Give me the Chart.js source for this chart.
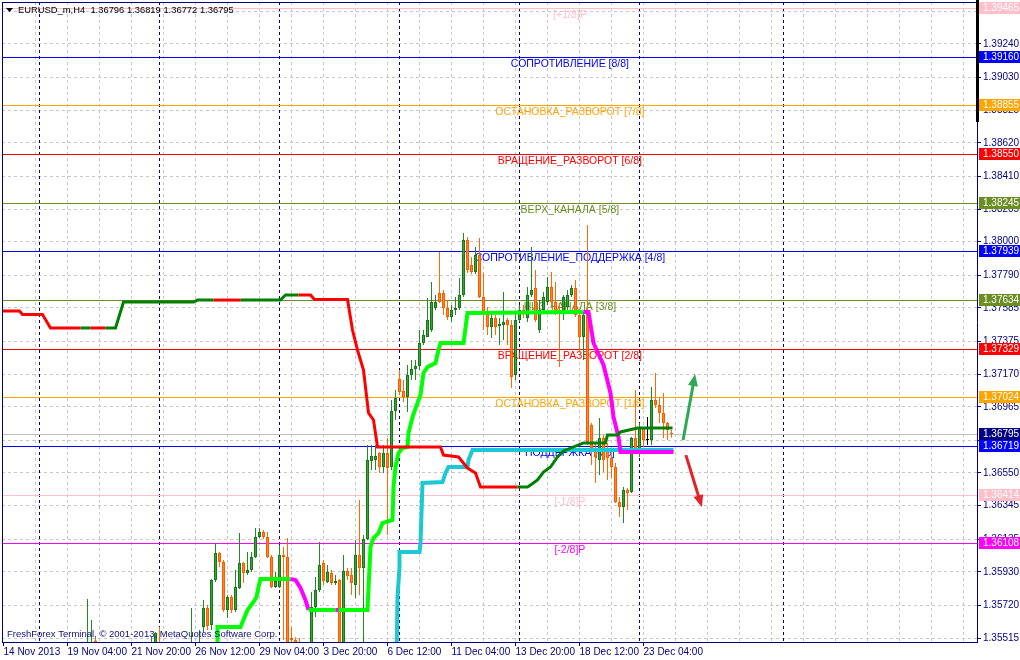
<!DOCTYPE html>
<html>
<head>
<meta charset="utf-8">
<script src="https://cdn.jsdelivr.net/npm/chart.js@4.4.0/dist/chart.umd.min.js"></script>
<style>
html,body{margin:0;padding:0;background:#fff;overflow:hidden}
canvas{display:block}
</style>
</head>
<body>
<canvas id="c" width="1020" height="660"></canvas>
<script>
// EURUSD_m H4 candles, bar 0 = 14 Nov 2013 12:00
const opens = [
 1.3462,1.3470,1.3465,1.3468,1.3476,1.3486,1.3482,1.3494,1.3490,1.3496,
 1.3500,1.3508,1.3502,1.3498,1.3509,1.3514,1.3518,1.3526,1.3522,1.3528,
 1.3536,1.3530,1.3541,1.3550,1.3538,1.3524,1.3502,1.3476,1.3458,1.3448,
 1.3450,1.3458,1.3452,1.3466,1.3484,1.3498,1.3516,1.3530,1.3540,1.3549,
 1.3540,1.3532,1.3536,1.3530,1.3524,1.3532,1.3538,1.3541,1.3546,1.3540,
 1.35584,1.35703,1.35597,1.35879,1.36048,1.35992,1.35691,1.35772,1.35691,1.35829,
 1.35985,1.35923,1.35941,1.36023,1.36148,1.36180,1.36148,1.36023,1.35835,1.35835,
 1.36035,1.36023,1.35515,1.35503,1.3546,1.3542,1.3535,1.3545,1.35709,1.35816,
 1.35985,1.35866,1.35923,1.35860,1.35879,1.3542,1.35935,1.35910,1.35847,1.36035,
 1.35954,1.36136,1.36625,1.36631,1.36675,1.36587,1.36675,1.36587,1.36938,1.37139,
 1.37064,1.37026,1.37164,1.37202,1.37221,1.37365,1.37402,1.37446,1.37584,1.37678,
 1.37678,1.37584,1.37528,1.37572,1.37584,1.37666,1.38011,1.37854,1.37810,1.37916,
 1.37653,1.37559,1.37465,1.37521,1.37471,1.37478,1.37509,1.37478,1.37164,1.37509,
 1.37572,1.37521,1.37666,1.37710,1.37446,1.37572,1.37622,1.37716,1.37622,1.37572,
 1.37553,1.37590,1.37666,1.37710,1.37540,1.37402,1.37553,1.36851,1.36706,1.36631,
 1.36769,1.36706,1.36644,1.36587,1.36368,1.36336,1.36443,1.36431,1.36769,1.36675,
 1.36832,1.36757,1.36757,1.37007,1.36976,1.36926,1.36863,1.36796
];
const highs = [
 1.3475,1.3478,1.3472,1.3480,1.3490,1.3495,1.3498,1.3502,1.3500,1.3505,
 1.3512,1.3515,1.3510,1.3512,1.3518,1.3522,1.3530,1.3535,1.3532,1.3540,
 1.3544,1.3576,1.35628,1.35515,1.3546,1.3530,1.3510,1.3482,1.3466,1.3456,
 1.3462,1.3465,1.3470,1.3488,1.3502,1.3520,1.3540,1.35521,1.35553,1.35584,
 1.3546,1.3540,1.3544,1.3538,1.3536,1.3542,1.3546,1.35703,1.3548,1.35565,
 1.35753,1.35722,1.35885,1.36111,1.36054,1.36004,1.35785,1.35785,1.35941,1.36173,
 1.35992,1.36054,1.36054,1.36205,1.36205,1.36192,1.36180,1.36035,1.35929,1.36098,
 1.36086,1.36142,1.35584,1.3552,1.35515,1.3546,1.3548,1.35804,1.35898,1.36117,
 1.36004,1.35973,1.35941,1.35910,1.35885,1.36035,1.35954,1.35954,1.36130,1.36380,
 1.36161,1.36725,1.36725,1.36725,1.36681,1.36725,1.36769,1.37007,1.37070,1.37195,
 1.37133,1.37227,1.37258,1.37258,1.37446,1.37446,1.37647,1.37747,1.37666,1.37935,
 1.37697,1.37634,1.37603,1.37653,1.37772,1.38054,1.38029,1.37904,1.37967,1.38023,
 1.37804,1.37590,1.37553,1.37540,1.37521,1.37685,1.37521,1.37509,1.37553,1.37603,
 1.37603,1.37716,1.37967,1.37822,1.37634,1.37685,1.37779,1.37810,1.37747,1.37616,
 1.37666,1.37697,1.37728,1.37760,1.37572,1.37559,1.38105,1.36863,1.36738,1.36894,
 1.36788,1.36738,1.36662,1.36612,1.36399,1.36462,1.36456,1.36775,1.37070,1.36863,
 1.36838,1.36901,1.37089,1.37177,1.37026,1.37051,1.36869,1.36819
];
const lows = [
 1.3455,1.3462,1.3458,1.3464,1.3472,1.3480,1.3478,1.3486,1.3484,1.3490,
 1.3494,1.3498,1.3492,1.3495,1.3502,1.3508,1.3512,1.3518,1.3515,1.3524,
 1.3526,1.3526,1.3536,1.3534,1.3520,1.3498,1.3470,1.3452,1.3440,1.3438,
 1.3444,1.3446,1.3448,1.3460,1.3478,1.3490,1.3510,1.3525,1.3535,1.3537,
 1.3528,1.3522,1.3526,1.3518,1.3520,1.3528,1.3530,1.3538,1.3536,1.3536,
 1.35546,1.35565,1.35565,1.35866,1.35960,1.35678,1.35640,1.35672,1.35678,1.35822,
 1.35860,1.35910,1.35929,1.36017,1.36142,1.36136,1.36017,1.35829,1.35829,1.35829,
 1.35503,1.3538,1.3540,1.3535,1.3530,1.3525,1.3530,1.3540,1.35647,1.35804,
 1.35847,1.35860,1.35847,1.35847,1.3536,1.3537,1.35879,1.35785,1.35766,1.35785,
 1.3545,1.36130,1.36568,1.36568,1.36550,1.36550,1.36161,1.36568,1.36882,1.37039,
 1.36995,1.36932,1.37133,1.37133,1.37195,1.37352,1.37402,1.37434,1.37572,1.37616,
 1.37540,1.37509,1.37496,1.37540,1.37572,1.37653,1.37804,1.37797,1.37797,1.37647,
 1.37446,1.37415,1.37396,1.37415,1.37352,1.37383,1.37352,1.37083,1.37133,1.37496,
 1.37521,1.37496,1.37653,1.37496,1.37427,1.37559,1.37603,1.37584,1.37540,1.37214,
 1.37509,1.37572,1.37653,1.37528,1.37308,1.37258,1.36725,1.36600,1.36487,1.36537,
 1.36556,1.36506,1.36518,1.36362,1.36274,1.36236,1.36318,1.36424,1.36681,1.36650,
 1.36713,1.36725,1.36725,1.36957,1.36863,1.36769,1.36757,1.36772
];
const closes = [
 1.3470,1.3465,1.3468,1.3476,1.3486,1.3482,1.3494,1.3490,1.3496,1.3500,
 1.3508,1.3502,1.3498,1.3509,1.3514,1.3518,1.3526,1.3522,1.3528,1.3536,
 1.3530,1.3542,1.3547,1.3538,1.3524,1.3502,1.3476,1.3458,1.3448,1.3450,
 1.3458,1.3452,1.3466,1.3484,1.3498,1.3516,1.3530,1.3547,1.35546,1.3540,
 1.3532,1.3536,1.3530,1.3524,1.3532,1.3538,1.3541,1.3546,1.3540,1.3546,
 1.35703,1.35590,1.35879,1.36048,1.35992,1.35691,1.35772,1.35691,1.35835,1.35985,
 1.35923,1.35941,1.36023,1.36148,1.36180,1.36148,1.36023,1.35835,1.35872,1.36035,
 1.36023,1.3545,1.35503,1.3546,1.3542,1.3535,1.3545,1.35709,1.35816,1.35973,
 1.35872,1.35929,1.35860,1.35872,1.3541,1.35935,1.35904,1.35860,1.36035,1.35954,
 1.36136,1.36631,1.36656,1.36656,1.36587,1.36675,1.36581,1.36938,1.37020,1.37058,
 1.37026,1.37164,1.37202,1.37221,1.37365,1.37415,1.37509,1.37622,1.37622,1.37622,
 1.37584,1.37528,1.37572,1.37584,1.37666,1.38011,1.37822,1.37810,1.37916,1.37653,
 1.37559,1.37465,1.37521,1.37465,1.37484,1.37496,1.37478,1.37152,1.37509,1.37572,
 1.37546,1.37666,1.37697,1.37509,1.37572,1.37653,1.37716,1.37622,1.37559,1.37553,
 1.37653,1.37666,1.37710,1.37540,1.37402,1.37540,1.36744,1.36706,1.36650,1.36769,
 1.36631,1.36644,1.36587,1.36368,1.36336,1.36443,1.36424,1.36769,1.36694,1.36838,
 1.36757,1.36757,1.37007,1.36976,1.36926,1.36863,1.36819,1.36795
];

// trend line (red falling / green rising): bar position, price, colour of segment
const tlBar = [-0.375,4,4.75,9.75,11.75,19.25,21.75,25.5,28,30,
 47.5,48.5,52.5,59.25,69.25,70.5,73.75,76.75,77.75,86,
 87.25,88.5,90,91.25,92.5,93.5,109.25,110,113.75,116,
 118,119.25,128.5,131,131.75,133.5,135,136.75,138.5,140,
 145,150.5,151,153.5,154.25,158.5,167.25];
const tlVal = [1.37565,1.37565,1.37543,1.37543,1.37459,1.37459,1.37459,1.37459,1.37459,1.37622,
 1.37622,1.37634,1.37634,1.37634,1.37634,1.37666,1.37666,1.37666,1.37638,1.37638,
 1.37446,1.37321,1.37195,1.36926,1.36882,1.36713,1.36713,1.36662,1.36650,1.36581,
 1.36550,1.36462,1.36462,1.36462,1.36474,1.36506,1.36556,1.36587,1.36650,1.36688,
 1.36738,1.36738,1.36788,1.36788,1.36807,1.36832,1.36832];
const tlCol = 'rrrrrgrgggggrgggrrrrrrrrrrrrrrrrggggggggggggggg';

// trailing stop line (lime / magenta)
const slBar = [53.5,53.5,59.25,61,62.5,63.25,63.75,64.25,71.75,73,
 74.25,75.5,76.25,83,83.75,91,91.75,92.5,93.75,94.75,
 97.25,97.5,98,98.75,99.75,101,101.25,102.25,103.5,104.25,
 105,106,108,108.75,109.25,115,116,145,146.25,147.5,
 150,151.75,152.5,153.75,154.25,167.5];
const slVal = [1.3535,1.35584,1.35584,1.35691,1.35741,1.35772,1.35835,1.35885,1.35885,1.35879,
 1.35829,1.35753,1.35691,1.35691,1.35691,1.35691,1.36086,1.36142,1.36173,1.36236,
 1.36255,1.36462,1.36587,1.36675,1.36706,1.36713,1.36800,1.36901,1.36989,1.37039,
 1.37177,1.37214,1.37239,1.37321,1.37365,1.37365,1.37553,1.37559,1.37559,1.37365,
 1.37227,1.37051,1.36901,1.36775,1.36681,1.36681];
const slCol = 'llllllllmmmmlmlllllllllllllllllllllllmmmmmmmmm';

// cyan support line
const clBar = [98.25,98.5,99,99,104,104.25,104.75,109.75,110.5,111.25,116,116.25,117.25,167.5];
const clVal = [1.3535,1.35772,1.35960,1.36054,1.36054,1.36111,1.36487,1.36493,1.36550,1.36587,1.36587,1.36631,1.36694,1.36694];

// Murrey math levels
const mmVals = [1.39465,1.39160,1.38855,1.38550,1.38245,1.37939,1.37634,1.37329,1.37024,1.36719,1.36414,1.36108];
const mmNames = ['[+1/8]P','СОПРОТИВЛЕНИЕ [8/8]','ОСТАНОВКА_РАЗВОРОТ [7/8]','ВРАЩЕНИЕ_РАЗВОРОТ [6/8]',
 'ВЕРХ_КАНАЛА [5/8]','СОПРОТИВЛЕНИЕ_ПОДДЕРЖКА [4/8]','НИЗ_КАНАЛА [3/8]','ВРАЩЕНИЕ_РАЗВОРОТ [2/8]',
 'ОСТАНОВКА_РАЗВОРОТ [1/8]','ПОДДЕРЖКА [0/8]','[-1/8]P','[-2/8]P'];
const mmColors = ['#FFC0CB','#0000FF','#FFA500','#FF0000','#6B8E23','#0000FF','#6B8E23','#FF0000','#FFA500','#0000FF','#FFC0CB','#FF00FF'];
const mmLabelBar = 141.6;

// arrows (bar, price)
const arrowFrom = [[169.9,1.36757],[170.6,1.36662]];
const arrowTo = [[172.9,1.37170],[174.6,1.36336]];
const arrowColors = ['#2EAA55','#E3222B'];

// axes
const yTicks = [1.39445,1.39240,1.39030,1.38825,1.38620,1.38410,1.38205,1.38000,1.37790,1.37585,1.37375,
 1.37170,1.36965,1.36755,1.36550,1.36345,1.36135,1.35930,1.35720,1.35515];
const xLabelBars = [0,16,32,48,64,80,96,112,128,144,160];
const xLabels = ['14 Nov 2013','19 Nov 04:00','21 Nov 20:00','26 Nov 12:00','29 Nov 04:00','3 Dec 20:00',
 '6 Dec 12:00','11 Dec 04:00','13 Dec 20:00','18 Dec 12:00','23 Dec 04:00'];
const xGridBars = Array.from({length: 31}, (_, k) => k * 8);
const sepBars = [9,39,69,99,129,159,195];

const NAVY = '#000080';
const FONT = '"Liberation Sans", Arial, sans-serif';
Chart.defaults.font.family = FONT;
Chart.defaults.font.size = 10;

const dir = opens.map((o, i) => closes[i] > o ? 1 : (closes[i] < o ? -1 : 0));
const bodyFill = dir.map(d => d > 0 ? '#35A535' : (d < 0 ? '#FF8424' : '#000000'));
const bodyLine = dir.map(d => d > 0 ? '#17781A' : (d < 0 ? '#FF5A00' : '#000000'));
const wickCol = dir.map(d => d > 0 ? '#228B22' : (d < 0 ? '#FF6A00' : '#000000'));

const mt4 = {
  id: 'mt4',
  beforeDatasetsDraw(chart) {
    const {ctx, chartArea: a, scales: {x, y}} = chart;
    const w = a.right - a.left;
    ctx.save();
    ctx.beginPath();
    ctx.rect(a.left, a.top, w, a.bottom - a.top);
    ctx.clip();
    // period separators
    ctx.strokeStyle = NAVY;
    ctx.lineWidth = 1;
    ctx.setLineDash([3, 3]);
    sepBars.forEach(b => {
      const px = x.getPixelForValue(b);
      ctx.beginPath(); ctx.moveTo(px, a.top); ctx.lineTo(px, a.bottom); ctx.stroke();
    });
    ctx.setLineDash([]);
    // bid line
    const bid = closes[closes.length - 1];
    ctx.fillStyle = '#C0C0C0';
    ctx.fillRect(a.left, Math.round(y.getPixelForValue(bid)), w, 1);
    // murrey levels
    ctx.font = '10.5px ' + FONT;
    ctx.textAlign = 'center';
    ctx.textBaseline = 'middle';
    const lx = x.getPixelForValue(mmLabelBar);
    mmVals.forEach((v, k) => {
      const py = Math.round(y.getPixelForValue(v));
      ctx.fillStyle = mmColors[k];
      ctx.fillRect(a.left, py, w, 1);
      ctx.fillText(mmNames[k], lx, py + 7.5);
    });
    ctx.restore();
  },
  afterDatasetsDraw(chart) {
    const {ctx, scales: {x, y}} = chart;
    ctx.save();
    arrowFrom.forEach((f, k) => {
      const x0 = x.getPixelForValue(f[0]), y0 = y.getPixelForValue(f[1]);
      const x1 = x.getPixelForValue(arrowTo[k][0]), y1 = y.getPixelForValue(arrowTo[k][1]);
      const len = Math.hypot(x1 - x0, y1 - y0), ux = (x1 - x0) / len, uy = (y1 - y0) / len;
      const bx = x1 - ux * 12, by = y1 - uy * 12;
      ctx.strokeStyle = arrowColors[k];
      ctx.fillStyle = arrowColors[k];
      ctx.lineWidth = 3;
      ctx.beginPath(); ctx.moveTo(x0, y0); ctx.lineTo(bx + ux * 2, by + uy * 2); ctx.stroke();
      ctx.beginPath();
      ctx.moveTo(x1, y1);
      ctx.lineTo(bx - uy * 5, by + ux * 5);
      ctx.lineTo(bx + uy * 5, by - ux * 5);
      ctx.closePath(); ctx.fill();
    });
    ctx.restore();
  },
  afterDraw(chart) {
    const {ctx, chartArea: a, scales: {y}} = chart;
    ctx.save();
    // frame left / top
    ctx.fillStyle = NAVY;
    ctx.fillRect(a.left, a.top, 1, a.bottom - a.top);
    ctx.fillRect(a.left, a.top, a.right - a.left, 1);
    // marker on price scale
    ctx.fillStyle = '#000000';
    ctx.fillRect(a.right - 1, 0, 3, 122);
    // price boxes
    ctx.font = '10px ' + FONT;
    ctx.textAlign = 'left';
    ctx.textBaseline = 'middle';
    const boxes = mmVals.map((v, k) => [v, mmColors[k]]);
    boxes.push([closes[closes.length - 1], NAVY]);
    boxes.forEach(b => {
      const py = Math.round(y.getPixelForValue(b[0]));
      ctx.fillStyle = b[1];
      ctx.fillRect(a.right + 2, py - 6, 41, 12);
      ctx.fillStyle = '#FFFFFF';
      ctx.fillText(b[0].toFixed(5), a.right + 6, py + 0.5);
    });
    // title
    ctx.font = '9.4px ' + FONT;
    ctx.fillStyle = '#000000';
    ctx.beginPath(); ctx.moveTo(6, 8); ctx.lineTo(13, 8); ctx.lineTo(9.5, 12); ctx.closePath(); ctx.fill();
    ctx.fillText('EURUSD_m,H4  ' + [opens, highs, lows, closes].map(s => s[s.length - 1].toFixed(5)).join(' '), 18, 10);
    // copyright
    ctx.font = '9.5px ' + FONT;
    ctx.fillStyle = '#10107A';
    ctx.fillText('FreshForex Terminal, © 2001-2013, MetaQuotes Software Corp.', 7, 634);
    ctx.restore();
  }
};

new Chart(document.getElementById('c'), {
  type: 'bar',
  data: {
    datasets: [
      {type: 'line', data: tlBar.map((b, k) => ({x: b, y: tlVal[k]})), borderColor: '#FF0000', borderWidth: 3,
       pointRadius: 0, tension: 0, order: 1,
       segment: {borderColor: s => tlCol[s.p0DataIndex] === 'g' ? '#008000' : '#FF0000'}},
      {type: 'line', data: slBar.map((b, k) => ({x: b, y: slVal[k]})), borderColor: '#00FF00', borderWidth: 4,
       pointRadius: 0, tension: 0, order: 2,
       segment: {borderColor: s => slCol[s.p0DataIndex] === 'm' ? '#FF00FF' : '#00FF00'}},
      {type: 'line', data: clBar.map((b, k) => ({x: b, y: clVal[k]})), borderColor: '#1CC8D2', borderWidth: 4,
       pointRadius: 0, tension: 0, order: 3},
      {type: 'bar', data: opens.map((o, i) => ({x: i, y: [o, closes[i]]})), backgroundColor: bodyFill,
       borderColor: bodyLine, borderWidth: 1, borderSkipped: false, barThickness: 3, minBarLength: 1,
       grouped: false, inflateAmount: 0, order: 5},
      {type: 'bar', data: lows.map((l, i) => ({x: i, y: [l, highs[i]]})), backgroundColor: wickCol,
       borderWidth: 0, barThickness: 1, grouped: false, inflateAmount: 0, order: 6}
    ]
  },
  options: {
    responsive: false,
    animation: false,
    devicePixelRatio: 1,
    layout: {padding: {left: 2, top: 2, right: 0, bottom: 0}},
    plugins: {legend: {display: false}, tooltip: {enabled: false}},
    scales: {
      x: {
        type: 'linear', min: -0.375, max: 243.375, offset: false,
        afterBuildTicks: s => { s.ticks = xGridBars.map(v => ({value: v})); },
        afterFit: s => { s.height = 18; s.paddingLeft = 0; s.paddingRight = 0; },
        ticks: {autoSkip: false, maxRotation: 0, minRotation: 0, align: 'start', padding: 0, color: NAVY,
          callback: v => { const k = xLabelBars.indexOf(v); return k < 0 ? '' : xLabels[k]; }},
        grid: {offset: false, tickLength: 4,
          color: c => (c.tick && c.tick.value === 0) ? 'rgba(0,0,0,0)' : '#C8C8C8',
          tickColor: c => (c.tick && xLabelBars.includes(c.tick.value)) ? NAVY : 'rgba(0,0,0,0)'},
        border: {display: true, color: NAVY, dash: [3, 3]}
      },
      y: {
        type: 'linear', position: 'right', min: 1.35490, max: 1.39503, beginAtZero: false,
        afterBuildTicks: s => { s.ticks = yTicks.map(v => ({value: v})); },
        afterFit: s => { s.width = 43; s.paddingTop = 0; s.paddingBottom = 0; },
        ticks: {padding: 2, color: NAVY, callback: v => v.toFixed(5)},
        grid: {color: '#C8C8C8', tickLength: 4, tickColor: NAVY},
        border: {display: true, color: NAVY, dash: [3, 3]}
      }
    }
  },
  plugins: [mt4]
});
</script>
</body>
</html>
